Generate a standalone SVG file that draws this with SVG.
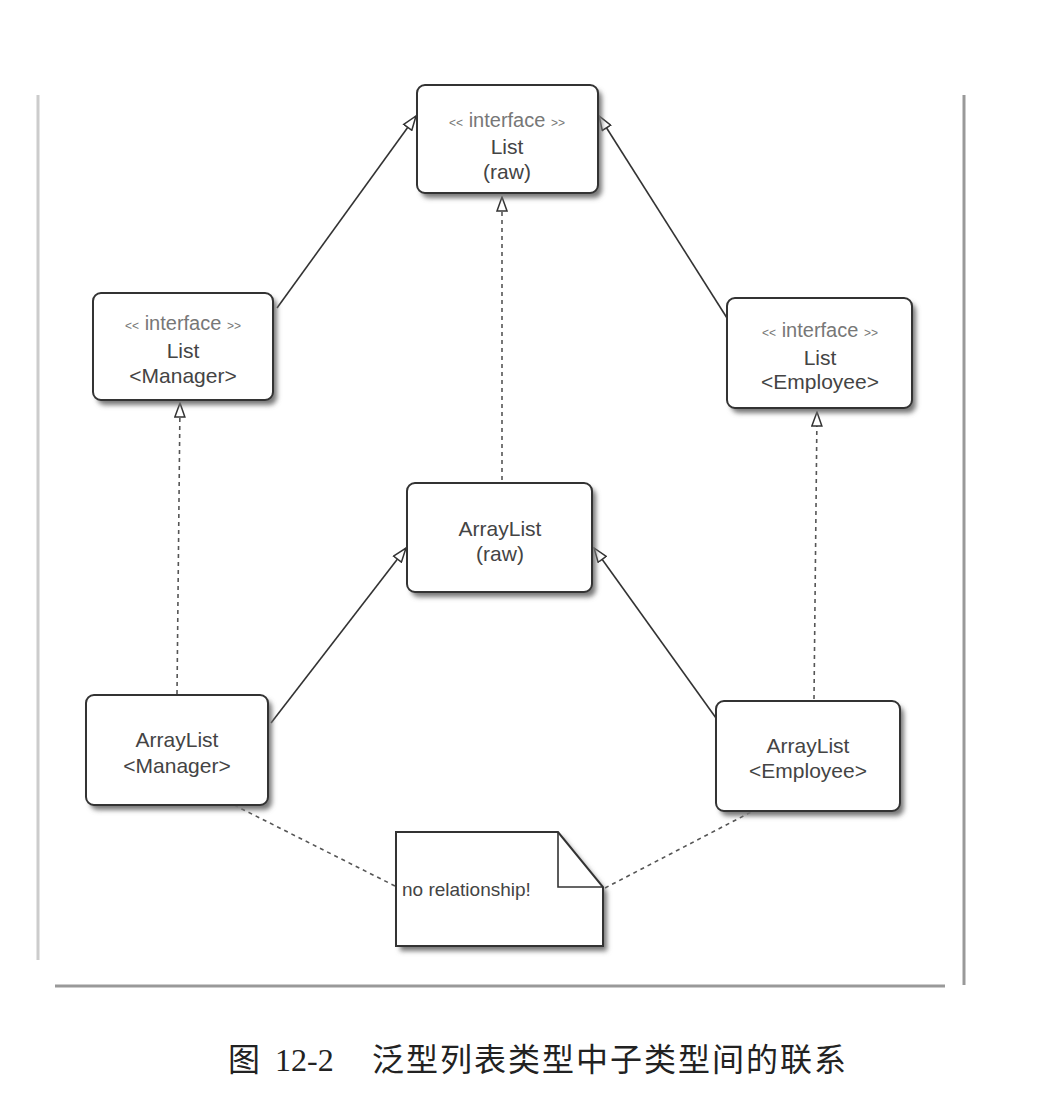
<svg xmlns="http://www.w3.org/2000/svg" width="1044" height="1094" viewBox="0 0 1044 1094">
<style>
.box{fill:#fff;stroke:#333;stroke-width:2}
.shadow{fill:#777;filter:url(#blur)}
.t{font-family:"Liberation Sans",Arial,sans-serif;font-size:21px;fill:#444;text-anchor:middle}
.s{font-family:"Liberation Sans",Arial,sans-serif;font-size:20px;fill:#777;text-anchor:middle}
.g{font-size:12px}
.solid{stroke:#333;stroke-width:1.6;fill:none}
.dash{stroke:#555;stroke-width:1.6;fill:none;stroke-dasharray:4 4}
.frame{stroke-width:3;fill:none}
.cap{font-family:"Liberation Serif","Noto Sans CJK SC",serif;font-size:32px;fill:#222}
</style>
<defs>
<filter id="blur" x="-10%" y="-10%" width="130%" height="130%"><feGaussianBlur stdDeviation="2.5"/></filter>
<marker id="tri" viewBox="0 0 16 12" refX="15" refY="6" markerWidth="16" markerHeight="12" markerUnits="userSpaceOnUse" orient="auto">
<path d="M1,1 L15,6 L1,11 Z" fill="#fff" stroke="#333" stroke-width="1.5"/>
</marker>
</defs>
<rect width="1044" height="1094" fill="#fff"/>
<g id="frame">
<line class="frame" x1="38" y1="95" x2="38" y2="960" stroke="#ccc"/>
<line class="frame" x1="964" y1="95" x2="964" y2="985" stroke="#999"/>
<line class="frame" x1="55" y1="986" x2="945" y2="986" stroke="#999"/>
</g>
<g id="connectors">
<line class="solid" x1="277" y1="308" x2="416" y2="116" marker-end="url(#tri)"/>
<line class="solid" x1="727" y1="318" x2="599" y2="116" marker-end="url(#tri)"/>
<line class="dash" x1="502" y1="480" x2="502" y2="197" marker-end="url(#tri)"/>
<line class="dash" x1="177" y1="694" x2="180" y2="403" marker-end="url(#tri)"/>
<line class="dash" x1="814" y1="699" x2="817" y2="412" marker-end="url(#tri)"/>
<line class="solid" x1="271" y1="723" x2="406" y2="548" marker-end="url(#tri)"/>
<line class="solid" x1="716" y1="718" x2="594" y2="548" marker-end="url(#tri)"/>
<line class="dash" x1="395" y1="886" x2="230" y2="803"/>
<line class="dash" x1="605" y1="888" x2="778" y2="798"/>
</g>
<g id="list-raw">
<rect class="shadow" x="421" y="90" width="181" height="108" rx="8"/>
<rect class="box" x="417" y="85" width="181" height="108" rx="8"/>
<text class="s" x="507" y="127"><tspan class="g">&lt;&lt;</tspan> interface <tspan class="g">&gt;&gt;</tspan></text>
<text class="t" x="507" y="154">List</text>
<text class="t" x="507" y="179">(raw)</text>
</g>
<g id="list-manager">
<rect class="shadow" x="97" y="298" width="180" height="107" rx="8"/>
<rect class="box" x="93" y="293" width="180" height="107" rx="8"/>
<text class="s" x="183" y="330"><tspan class="g">&lt;&lt;</tspan> interface <tspan class="g">&gt;&gt;</tspan></text>
<text class="t" x="183" y="358">List</text>
<text class="t" x="183" y="383">&lt;Manager&gt;</text>
</g>
<g id="list-employee">
<rect class="shadow" x="731" y="303" width="185" height="110" rx="8"/>
<rect class="box" x="727" y="298" width="185" height="110" rx="8"/>
<text class="s" x="820" y="337"><tspan class="g">&lt;&lt;</tspan> interface <tspan class="g">&gt;&gt;</tspan></text>
<text class="t" x="820" y="365">List</text>
<text class="t" x="820" y="389">&lt;Employee&gt;</text>
</g>
<g id="arraylist-raw">
<rect class="shadow" x="411" y="488" width="185" height="109" rx="8"/>
<rect class="box" x="407" y="483" width="185" height="109" rx="8"/>
<text class="t" x="500" y="536">ArrayList</text>
<text class="t" x="500" y="561">(raw)</text>
</g>
<g id="arraylist-manager">
<rect class="shadow" x="90" y="700" width="182" height="110" rx="8"/>
<rect class="box" x="86" y="695" width="182" height="110" rx="8"/>
<text class="t" x="177" y="747">ArrayList</text>
<text class="t" x="177" y="773">&lt;Manager&gt;</text>
</g>
<g id="arraylist-employee">
<rect class="shadow" x="720" y="706" width="184" height="110" rx="8"/>
<rect class="box" x="716" y="701" width="184" height="110" rx="8"/>
<text class="t" x="808" y="753">ArrayList</text>
<text class="t" x="808" y="778">&lt;Employee&gt;</text>
</g>
<g id="note">
<path class="shadow" d="M400,837 H562 L607,892 V951 H400 Z"/>
<path class="box" d="M396,832 H558 L603,887 V946 H396 Z"/>
<path class="solid" d="M558,832 V887 H603"/>
<text class="t" x="402" y="896" style="text-anchor:start;font-size:19px">no relationship!</text>
</g>
<text class="cap" x="228" y="1071">图<tspan x="275">12-2</tspan><tspan x="372" letter-spacing="2">泛型列表类型中子类型间的联系</tspan></text>
</svg>
